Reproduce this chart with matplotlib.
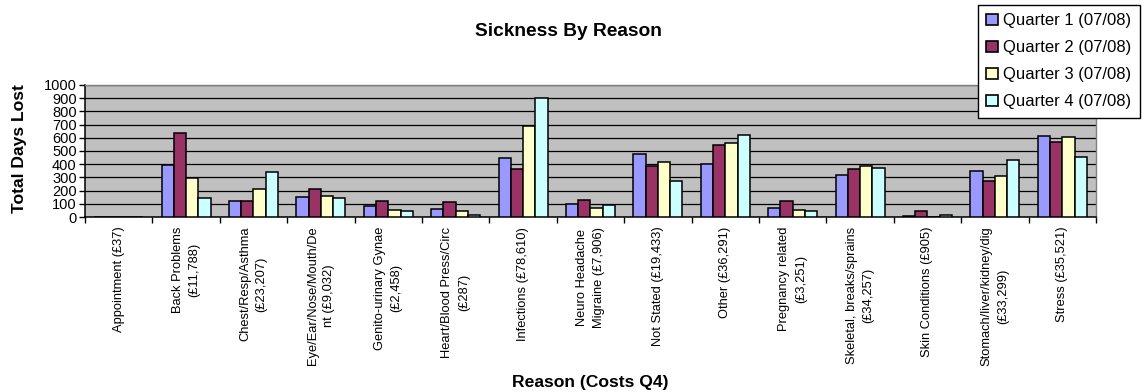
import numpy as np
import matplotlib
matplotlib.use("Agg")
from matplotlib import pyplot as plt
from matplotlib.patches import Patch

plt.rcParams['font.family'] = ['Liberation Sans', 'DejaVu Sans']

# Days lost per reason, one list per quarter
reasons = [
    "Appointment (£37)",
    "Back Problems\n(£11,788)",
    "Chest/Resp/Asthma\n(£23,207)",
    "Eye/Ear/Nose/Mouth/De\nnt (£9,032)",
    "Genito-urinary Gynae\n(£2,458)",
    "Heart/Blood Press/Circ\n(£287)",
    "Infections (£78,610)",
    "Neuro Headache\nMigraine (£7,906)",
    "Not Stated (£19,433)",
    "Other (£36,291)",
    "Pregnancy related\n(£3,251)",
    "Skeletal, breaks/sprains\n(£34,257)",
    "Skin Conditions (£905)",
    "Stomach/liver/kidney/dig\n(£33,299)",
    "Stress (£35,521)",
]
q1 = [0, 395, 121, 155, 83, 58, 445, 101, 475, 402, 71, 321, 8, 351, 611]
q2 = [0, 638, 121, 215, 124, 116, 366, 131, 386, 543, 121, 364, 48, 270, 566]
q3 = [0, 293, 210, 160, 55, 48, 692, 71, 419, 558, 53, 384, 3, 311, 606]
q4 = [0, 146, 343, 145, 43, 13, 899, 91, 275, 619, 43, 374, 13, 429, 457]

series_names = ["Quarter 1 (07/08)", "Quarter 2 (07/08)",
                "Quarter 3 (07/08)", "Quarter 4 (07/08)"]
colours = ["#9999FF", "#993366", "#FFFFCC", "#CCFFFF"]

fig = plt.figure(figsize=(11.44, 3.92), dpi=100)
ax = fig.add_axes([0.0743, 0.4464, 0.8837, 0.3368])
ax.set_facecolor("#C0C0C0")

x = np.arange(len(reasons))
w = 0.182
for k, (vals, col) in enumerate(zip([q1, q2, q3, q4], colours)):
    ax.bar(x + (k - 1.5) * w, vals, width=w, color=col,
           edgecolor="black", linewidth=1.1, zorder=3)

ax.set_xlim(-0.5, len(reasons) - 0.5)
ax.set_ylim(0, 1000)
ax.set_yticks(range(0, 1001, 100))
ax.yaxis.grid(True, color="black", linewidth=0.9, zorder=1)
ax.set_axisbelow(True)

# labels at category centres, tick marks on the boundaries
ax.set_xticks(x)
ax.set_xticklabels(reasons, rotation=90, ha="center", va="top",
                   multialignment="center", fontsize=9.3, linespacing=1.5)
ax.set_xticks(np.arange(-0.5, len(reasons)), minor=True)
ax.tick_params(axis="x", which="major", length=0, pad=7)
ax.tick_params(axis="x", which="minor", length=4, width=1, direction="out")
ax.tick_params(axis="y", length=4, width=1, direction="out", labelsize=10.5, pad=2)

for s in ["left", "bottom"]:
    ax.spines[s].set_color("black")
    ax.spines[s].set_linewidth(1.1)
for s in ["top", "right"]:
    ax.spines[s].set_color("#808080")
    ax.spines[s].set_linewidth(1.0)

fig.text(568 / 1144, 1 - 31 / 392, "Sickness By Reason", ha="center",
         va="center", fontsize=13.8, fontweight="bold")
fig.text(590 / 1144, 1 - 382 / 392, "Reason (Costs Q4)", ha="center",
         va="center", fontsize=12.6, fontweight="bold")
fig.text(20 / 1144, 1 - 149 / 392, "Total Days Lost", ha="center",
         va="center", rotation=90, fontsize=12.6, fontweight="bold")

handles = [Patch(facecolor=c, edgecolor="black", linewidth=1.2) for c in colours]
leg = fig.legend(handles, series_names, loc="upper left",
                 bbox_to_anchor=(978 / 1144, 1 - 5 / 392), borderaxespad=0,
                 fontsize=12, frameon=True, fancybox=False, shadow=False,
                 handlelength=0.7, handleheight=0.7, handletextpad=0.3,
                 labelspacing=0.72, borderpad=0.5)
leg.get_frame().set_edgecolor("black")
leg.get_frame().set_linewidth(1.0)
leg.get_frame().set_alpha(1)

fig.savefig("out.png", dpi=100)
